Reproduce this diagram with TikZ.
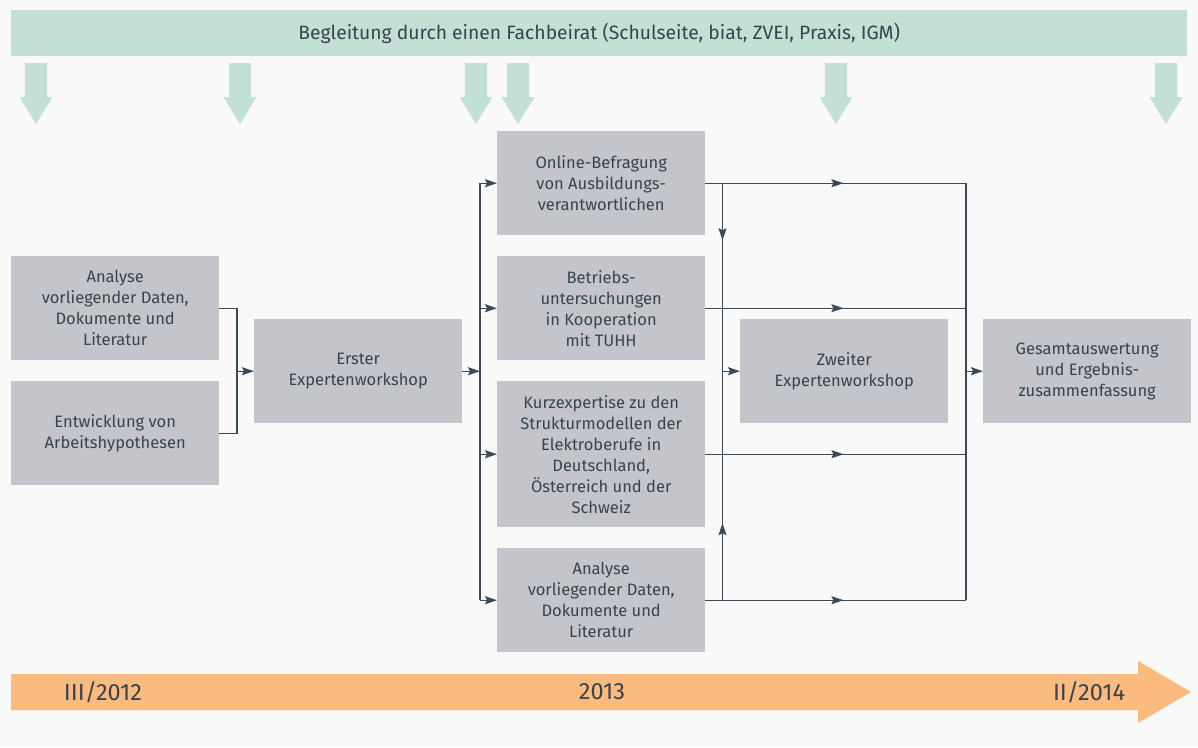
\documentclass[tikz,border=0pt]{standalone}
\usepackage{fontspec}
\setmainfont{Fira Sans}
\usetikzlibrary{arrows.meta,decorations.markings}
\definecolor{bgc}{HTML}{F9F9F9}
\definecolor{boxgray}{HTML}{C4C5CA}
\definecolor{txtc}{HTML}{37444F}
\definecolor{linec}{HTML}{3B4A56}
\definecolor{greenc}{HTML}{C2E0D3}
\definecolor{orangec}{HTML}{FBBB7F}
\tikzset{
  tip/.tip={Stealth[length=12pt,width=8pt,inset=2pt]},
  procbox/.style={fill=boxgray, minimum width=208pt, minimum height=104pt, inner sep=0pt,
    align=center, text=txtc, font=\fontsize{16.5}{21}\selectfont, anchor=north west},
  conn/.style={draw=linec, line width=1.3pt},
  midarrow/.style={postaction={decorate}, decoration={markings, mark=at position 138pt with {\arrow{tip}}}},
  downarrow/.style={fill=greenc, draw=none},
  timelabel/.style={text=txtc, font=\fontsize{23.5}{28}\selectfont}
}
\begin{document}
\begin{tikzpicture}[x=1pt,y=-1pt]
\useasboundingbox (0,0) rectangle (1198,747);
\fill[bgc] (0,0) rectangle (1198,747);

% banner
\node[fill=greenc, minimum width=1176pt, minimum height=46pt, inner sep=0pt, anchor=north west,
  text=txtc, font=\fontsize{19.3}{23}\selectfont] (banner) at (11,10)
  {Begleitung durch einen Fachbeirat (Schulseite, biat, ZVEI, Praxis, IGM)};

% down arrows
\foreach \cx in {36,240,476,518,836,1166}{
  \fill[downarrow] (\cx-11,63) -- (\cx+11,63) -- (\cx+11,97) -- (\cx+16.5,97) -- (\cx,124)
     -- (\cx-16.5,97) -- (\cx-11,97) -- cycle;
}

% timeline
\fill[orangec] (11,674) -- (1138,674) -- (1138,661) -- (1191,692) -- (1138,723) -- (1138,710) -- (11,710) -- cycle;
\node[timelabel] (t1) at (103,692) {III/2012};
\node[timelabel] (t2) at (602,692) {2013};
\node[timelabel] (t3) at (1089,692) {II/2014};

% boxes
\node[procbox] (L1) at (11,256) {Analyse\\vorliegender Daten,\\Dokumente und\\Literatur};
\node[procbox] (L2) at (11,381) {Entwicklung von\\Arbeitshypothesen};
\node[procbox] (E1) at (254,319) {Erster\\Expertenworkshop};
\node[procbox] (M1) at (497,131) {Online-Befragung\\von Ausbildungs-\\verantwortlichen};
\node[procbox] (M2) at (497,256) {Betriebs-\\untersuchungen\\in Kooperation\\mit TUHH};
\node[procbox, minimum height=146pt] (M3) at (497,381) {Kurzexpertise zu den\\Strukturmodellen der\\Elektroberufe in\\Deutschland,\\Österreich und der\\Schweiz};
\node[procbox] (M4) at (497,548) {Analyse\\vorliegender Daten,\\Dokumente und\\Literatur};
\node[procbox] (Z) at (740,319) {Zweiter\\Expertenworkshop};
\node[procbox] (G) at (983,319) {Gesamtauswertung\\und Ergebnis-\\zusammenfassung};

% bus coordinates
\coordinate (lb) at (237,0);
\coordinate (b1) at (480,0);
\coordinate (b2) at (722.5,0);
\coordinate (b3) at (966,0);

% left bracket
\draw[conn] (L1.east) -- (lb |- L1.east) -- (lb |- L2.east) -- (L2.east);
\draw[conn,-tip] (lb |- E1.west) -- (E1.west);

% first bus
\draw[conn,-tip] (E1.east) -- (b1 |- E1.east);
\draw[conn] (b1 |- M1.west) -- (b1 |- M4.west);
\foreach \m in {M1,M2,M3,M4}{
  \draw[conn,-tip] (b1 |- \m.west) -- (\m.west);
}

% right lines
\foreach \m in {M1,M2,M3,M4}{
  \draw[conn,midarrow] (\m.east) -- (b3 |- \m.east);
}
\draw[conn] (b3 |- M1.east) -- (b3 |- M4.east);
\draw[conn,-tip] (b3 |- G.west) -- (G.west);

% second bus
\draw[conn, postaction={decorate}, decoration={markings,
    mark=at position 57pt with {\arrow{tip}},
    mark=at position 340pt with {\arrowreversed{tip}}}]
  (b2 |- M1.east) -- (b2 |- M4.east);
\draw[conn,-tip] (b2 |- Z.west) -- (Z.west);
\end{tikzpicture}
\end{document}
